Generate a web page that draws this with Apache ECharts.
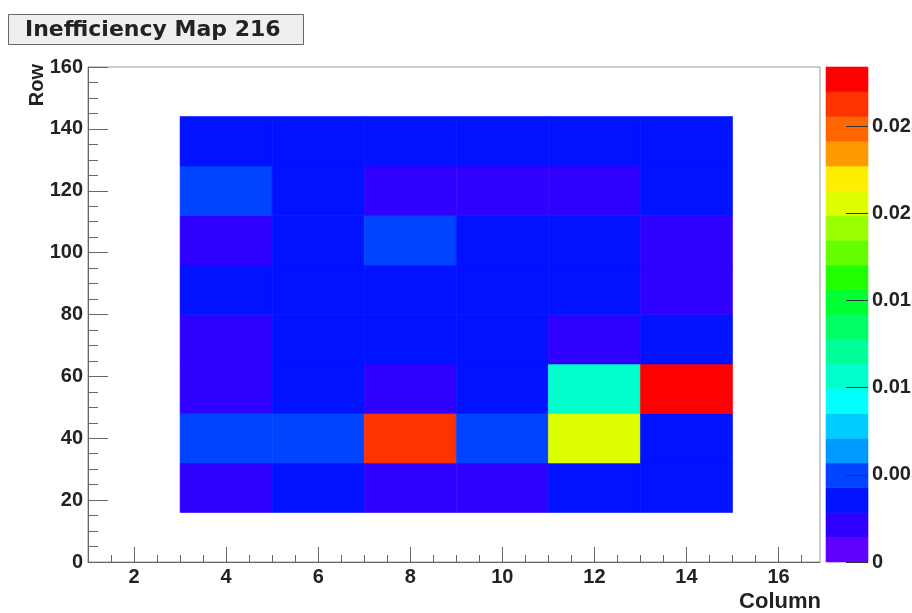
<!DOCTYPE html>
<html>
<head>
<meta charset="utf-8">
<script src="https://cdn.jsdelivr.net/npm/echarts@6/dist/echarts.min.js"></script>
<style>
  html, body { margin: 0; padding: 0; background: #fff; }
  #main { width: 912px; height: 613px; }
</style>
</head>
<body>
<div id="main"></div>
<script>
// bin edges (lower edge of each cell)
var colStarts = [3, 5, 7, 9, 11, 13];
var rowStarts = [16, 32, 48, 64, 80, 96, 112, 128];
var colWidth = 2;
var rowHeight = 16;

// inefficiency per row, bottom to top, one value per column
var row016 = [0.0020, 0.0035, 0.0021, 0.0020, 0.0035, 0.0036];
var row032 = [0.0050, 0.0050, 0.0264, 0.0051, 0.0207, 0.0036];
var row048 = [0.0019, 0.0034, 0.0021, 0.0035, 0.0107, 0.0284];
var row064 = [0.0020, 0.0035, 0.0036, 0.0035, 0.0021, 0.0035];
var row080 = [0.0034, 0.0035, 0.0035, 0.0036, 0.0035, 0.0021];
var row096 = [0.0021, 0.0035, 0.0052, 0.0035, 0.0034, 0.0020];
var row112 = [0.0053, 0.0036, 0.0020, 0.0021, 0.0020, 0.0035];
var row128 = [0.0035, 0.0034, 0.0036, 0.0034, 0.0035, 0.0035];
var rows = [row016, row032, row048, row064, row080, row096, row112, row128];

// colour scale
var zMax = 0.0284;
var palette = ['#6000ff', '#3000ff', '#0012ff', '#0044ff', '#0099ff', '#00ccff', '#00ffff',
  '#00ffcc', '#00ff99', '#00ff66', '#00ff33', '#22ff00', '#66ff00', '#99ff00', '#ddff00',
  '#ffee00', '#ff9900', '#ff6600', '#ff3300', '#ff0000'];
var xMajorTicks = [2, 4, 6, 8, 10, 12, 14, 16];
var xMinorTicks = [1.5, 2.5, 3, 3.5, 4.5, 5, 5.5, 6.5, 7, 7.5, 8.5, 9, 9.5, 10.5, 11, 11.5,
  12.5, 13, 13.5, 14.5, 15, 15.5, 16.5];

var cells = [];
rows.forEach(function (vals, r) {
  vals.forEach(function (v, c) {
    cells.push([colStarts[c], rowStarts[r], v]);
  });
});

var bandW = zMax / palette.length;
var bands = [];
var pieces = [];
palette.forEach(function (col, i) {
  var lo = i * bandW, hi = (i + 1) * bandW;
  bands.push([lo, hi, (lo + hi) / 2]);
  pieces.push({ gte: lo, lt: i === palette.length - 1 ? zMax + 1 : hi, color: col });
});

var titleFont = "'DejaVu Sans', Verdana, sans-serif";
var font = "'Liberation Sans', Arial, Helvetica, sans-serif";
var labelStyle = { fontFamily: font, fontWeight: 'bold', fontSize: 20, color: '#222' };

var myChart = echarts.init(document.getElementById('main'));

var option = {
  backgroundColor: '#fff',
  animation: false,
  title: {
    text: 'Inefficiency Map 216',
    left: 8,
    top: 14,
    padding: [5, 23, 4, 17],
    backgroundColor: '#efefef',
    borderColor: '#666',
    borderWidth: 1,
    textStyle: { fontFamily: titleFont, fontWeight: 'bold', fontSize: 22, color: '#222' }
  },
  grid: [
    { left: 88, right: 92, top: 67, bottom: 51, show: true, borderColor: '#999', borderWidth: 1, outerBoundsMode: 'none' },
    { left: 826, right: 44, top: 67, bottom: 51, outerBoundsMode: 'none' }
  ],
  visualMap: {
    type: 'piecewise',
    show: false,
    dimension: 2,
    seriesIndex: [0, 1],
    pieces: pieces
  },
  xAxis: [
    {
      type: 'value', gridIndex: 0, position: 'bottom', min: 1, max: 16.9,
      axisLine: { lineStyle: { color: '#666' } },
      axisTick: { inside: true, length: 15, customValues: xMajorTicks, lineStyle: { color: '#666' } },
      axisLabel: Object.assign({ customValues: xMajorTicks, margin: 5 }, labelStyle),
      splitLine: { show: false }
    },
    {
      type: 'value', gridIndex: 0, position: 'bottom', min: 1, max: 16.9,
      axisLine: { show: false },
      axisTick: { inside: true, length: 7, customValues: xMinorTicks, lineStyle: { color: '#666' } },
      axisLabel: { show: false },
      splitLine: { show: false }
    },
    {
      type: 'value', gridIndex: 1, min: 0, max: 1, show: false
    }
  ],
  yAxis: [
    {
      type: 'value', gridIndex: 0, min: 0, max: 160, interval: 20,
      axisLine: { show: true, lineStyle: { color: '#666' } },
      axisTick: { show: true, inside: true, length: 20, lineStyle: { color: '#666' } },
      minorTick: { show: true, splitNumber: 4, length: 10, lineStyle: { color: '#666' } },
      axisLabel: Object.assign({ margin: 5 }, labelStyle),
      splitLine: { show: false }
    },
    {
      type: 'value', gridIndex: 1, position: 'right', min: 0, max: zMax, interval: 0.005,
      z: 10,
      axisLine: { show: false, onZero: false },
      axisTick: { show: true, inside: true, length: 22, lineStyle: { color: '#333' } },
      axisLabel: Object.assign({ margin: 4, showMaxLabel: false }, labelStyle),
      splitLine: { show: false }
    }
  ],
  graphic: [
    {
      type: 'text', left: 27, top: 64, rotation: Math.PI / 2,
      style: { text: 'Row', font: 'bold 20px ' + font, fill: '#222' }
    },
    {
      type: 'text', right: 91, top: 591,
      style: { text: 'Column', font: 'bold 22px ' + font, fill: '#222' }
    }
  ],
  series: [
    {
      type: 'custom',
      name: 'inefficiency',
      xAxisIndex: 0,
      yAxisIndex: 0,
      data: cells,
      renderItem: function (params, api) {
        var p0 = api.coord([api.value(0), api.value(1) + rowHeight]);
        var p1 = api.coord([api.value(0) + colWidth, api.value(1)]);
        var c = api.visual('color');
        return {
          type: 'rect',
          shape: { x: p0[0], y: p0[1], width: p1[0] - p0[0], height: p1[1] - p0[1] },
          style: { fill: c, stroke: c, lineWidth: 0.6 }
        };
      }
    },
    {
      type: 'custom',
      name: 'palette',
      xAxisIndex: 2,
      yAxisIndex: 1,
      z: 1,
      data: bands,
      renderItem: function (params, api) {
        var p0 = api.coord([0, api.value(1)]);
        var p1 = api.coord([1, api.value(0)]);
        var c = api.visual('color');
        return {
          type: 'rect',
          shape: { x: p0[0], y: p0[1], width: p1[0] - p0[0], height: p1[1] - p0[1] },
          style: { fill: c, stroke: c, lineWidth: 0.6 }
        };
      }
    }
  ]
};

myChart.setOption(option);
</script>
</body>
</html>
